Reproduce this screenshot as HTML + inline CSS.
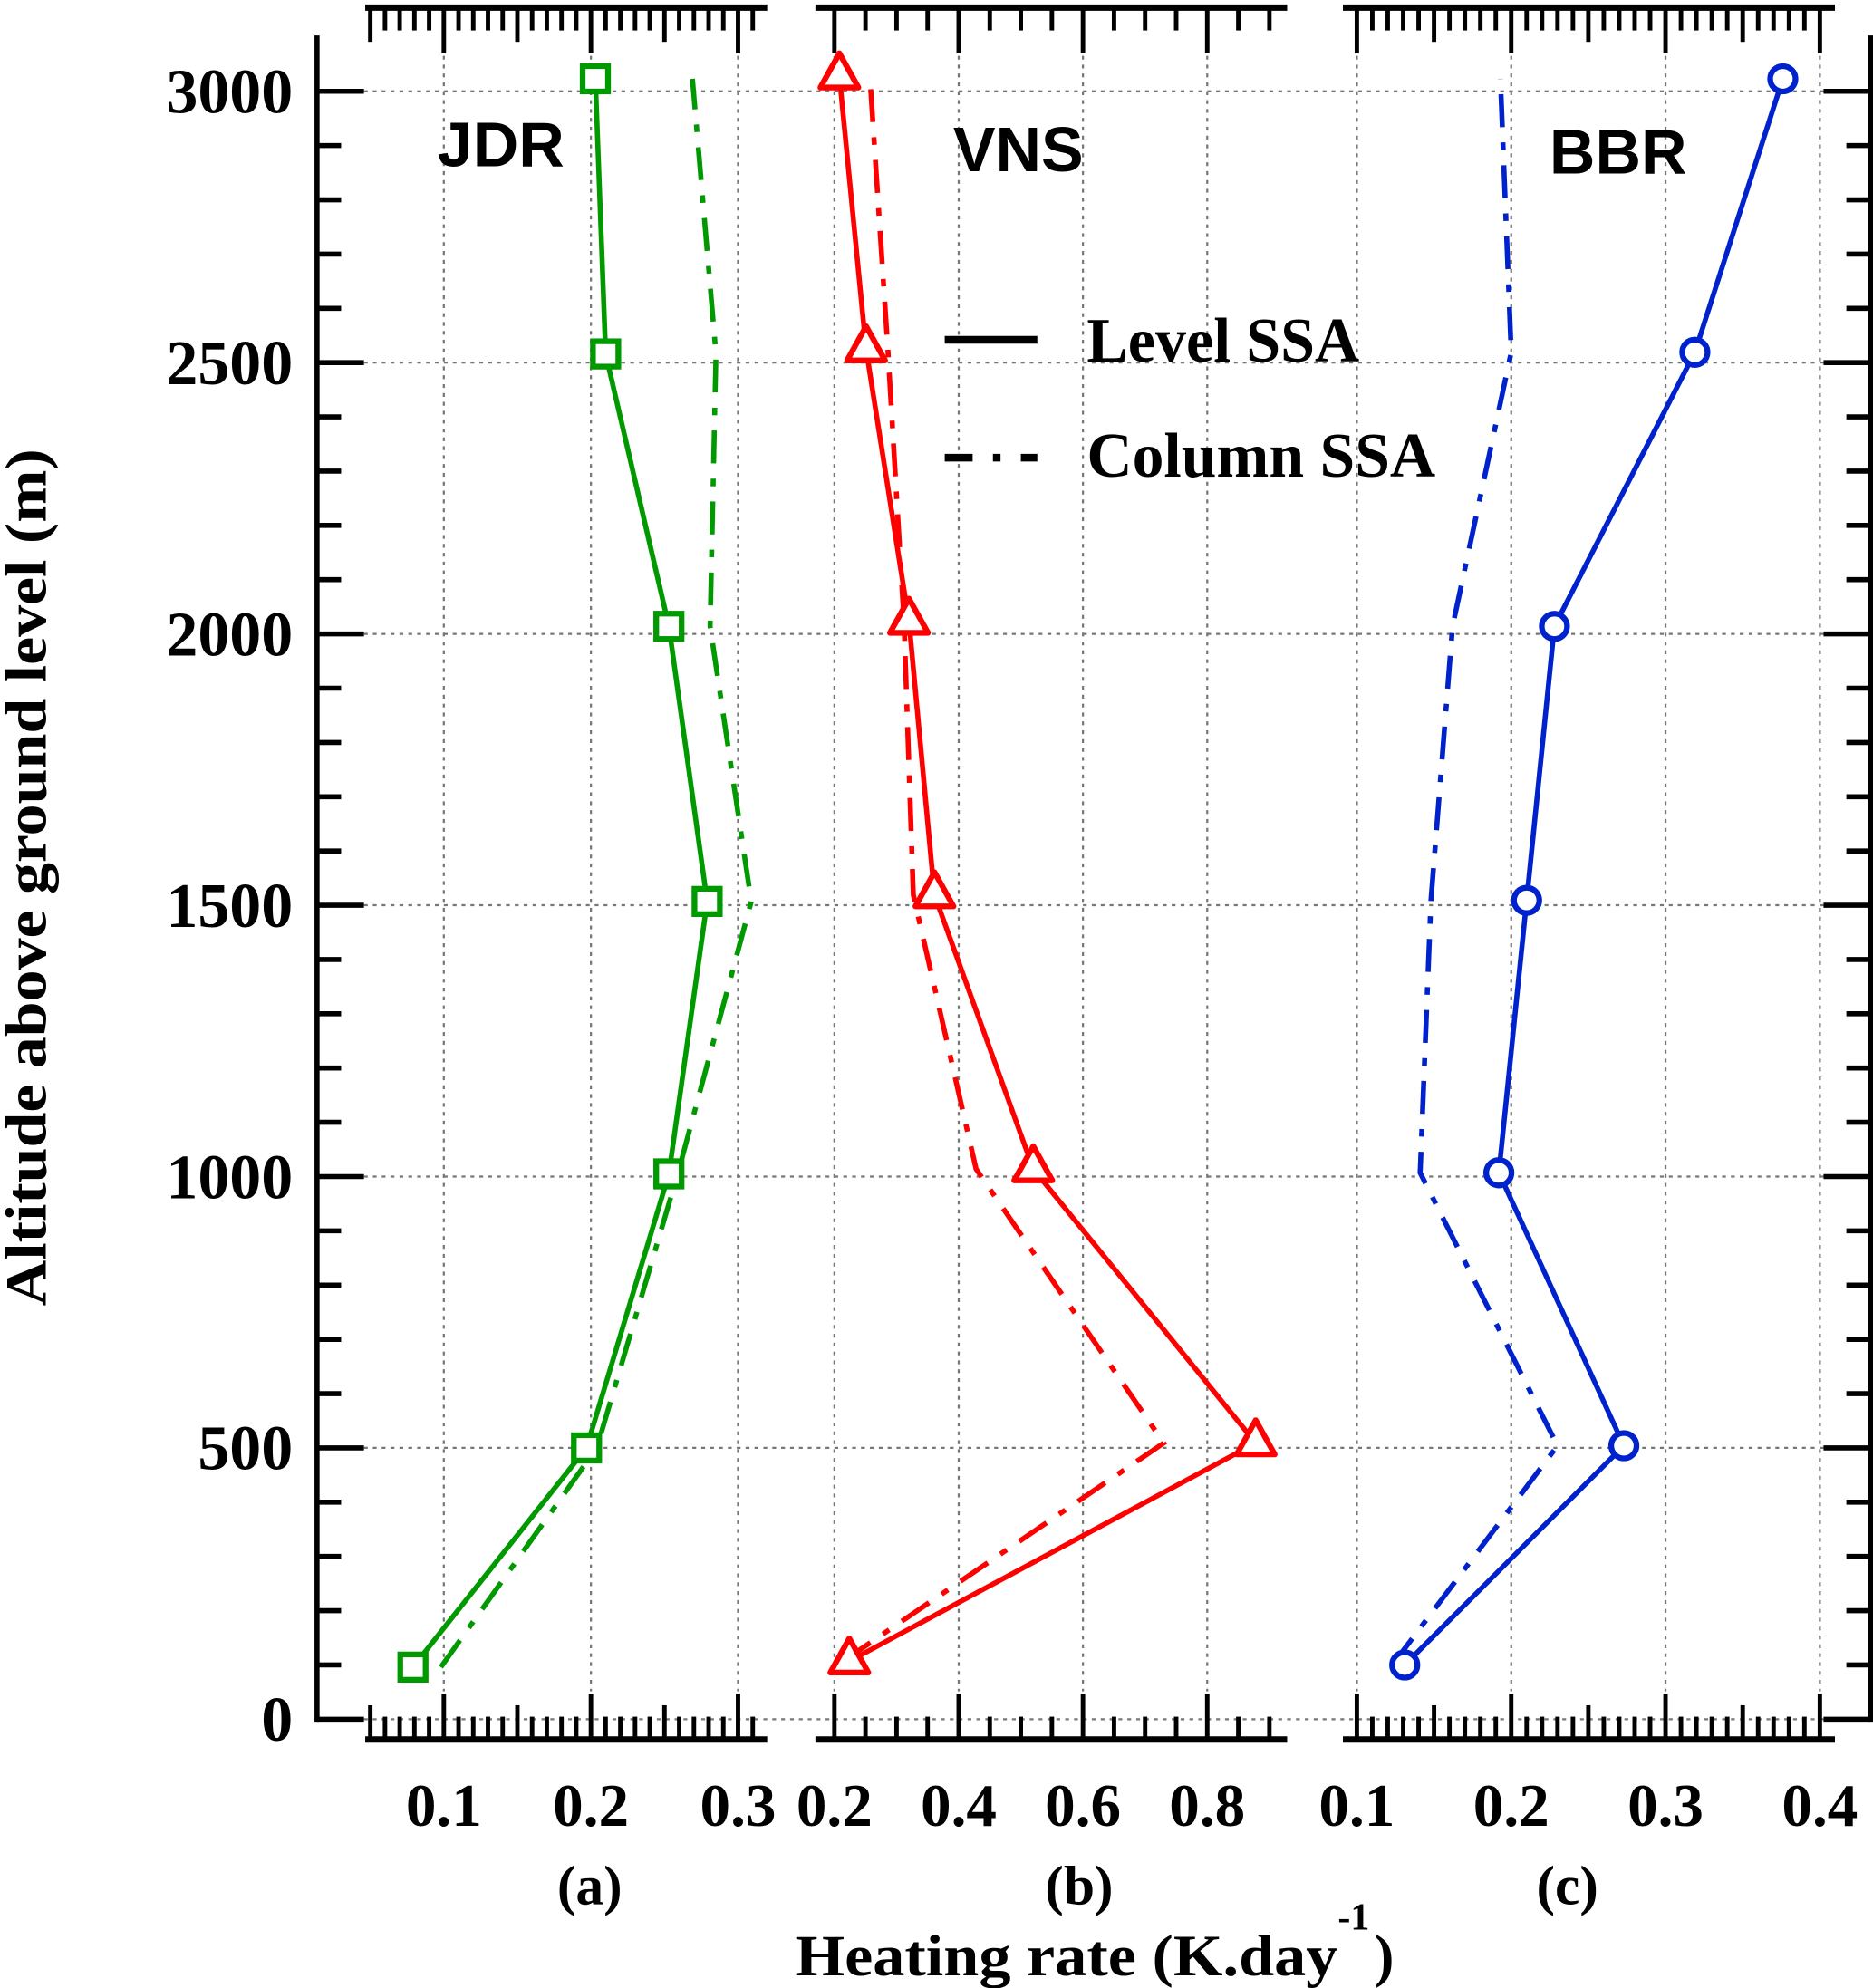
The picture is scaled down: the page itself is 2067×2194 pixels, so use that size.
<!DOCTYPE html>
<html><head><meta charset="utf-8"><style>
html,body{margin:0;padding:0;background:#fff;}
svg{display:block;}
text{font-family:"Liberation Serif",serif;font-weight:bold;fill:#000;}
</style></head><body>
<svg id="fig" width="2067" height="2194" viewBox="0 0 1477 1568" preserveAspectRatio="none" xmlns="http://www.w3.org/2000/svg">
<g id="grid"></g>
<g id="axes"></g>
<g id="series"></g>
<g id="labels">
<text x="395" y="131" text-anchor="middle" style="font-family:'Liberation Sans',sans-serif;font-size:50px">JDR</text>
<text x="803" y="135" text-anchor="middle" style="font-family:'Liberation Sans',sans-serif;font-size:50px">VNS</text>
<text x="1276" y="137" text-anchor="middle" style="font-family:'Liberation Sans',sans-serif;font-size:50px">BBR</text>
<line x1="745" y1="268" x2="818" y2="268" stroke="#000" stroke-width="6"/>
<text x="857" y="285" font-size="50" textLength="215" lengthAdjust="spacingAndGlyphs">Level SSA</text>
<line x1="745" y1="361" x2="818" y2="361" stroke="#000" stroke-width="6" stroke-dasharray="22 16 6 16"/>
<text x="857" y="376" font-size="50" textLength="275" lengthAdjust="spacingAndGlyphs">Column SSA</text>
<text x="465" y="1502" text-anchor="middle" font-size="44">(a)</text>
<text x="851" y="1502" text-anchor="middle" font-size="44">(b)</text>
<text x="1236" y="1502" text-anchor="middle" font-size="44">(c)</text>
<text x="627" y="1558" font-size="46" textLength="428" lengthAdjust="spacingAndGlyphs">Heating rate (K.day</text>
<text x="1055" y="1522" font-size="30">-1</text>
<text x="1084" y="1558" font-size="46">)</text>
<text transform="translate(36,692) rotate(-90)" text-anchor="middle" font-size="46" textLength="676" lengthAdjust="spacingAndGlyphs">Altitude above ground level (m)</text>
</g>
</svg>
<script>
// y-axis data
const altTicks = [0, 500, 1000, 1500, 2000, 2500, 3000];
// panel (a) JDR
const jdrAlt = [96, 500, 1005, 1507, 2014, 2516, 3023];
const jdrLevel = [0.079, 0.197, 0.253, 0.279, 0.253, 0.210, 0.203];
const jdrColumn = [0.098, 0.204, 0.259, 0.309, 0.281, 0.285, 0.269];
const jdrTicks = ["0.1", "0.2", "0.3"];
// panel (b) VNS
const vnsAlt = [107, 509, 1014, 1519, 2023, 2525, 3028];
const vnsLevel = [0.224, 0.878, 0.52, 0.361, 0.32, 0.251, 0.208];
const vnsColumn = [0.214, 0.73, 0.428, 0.327, 0.312, 0.286, 0.257];
const vnsTicks = ["0.2", "0.4", "0.6", "0.8"];
// panel (c) BBR
const bbrAlt = [100, 504, 1007, 1509, 2014, 2519, 3023];
const bbrLevel = [0.131, 0.273, 0.192, 0.210, 0.228, 0.319, 0.376];
const bbrColumn = [0.123, 0.23, 0.141, 0.148, 0.162, 0.2, 0.193];
const bbrTicks = ["0.1", "0.2", "0.3", "0.4"];

const NS = "http://www.w3.org/2000/svg";
const Y0 = 1356, YS = 1284 / 3000;
function yS(a) { return Y0 - a * YS; }
function mk(tag, attrs, parent) {
  const e = document.createElementNS(NS, tag);
  for (const k in attrs) e.setAttribute(k, attrs[k]);
  parent.appendChild(e);
  return e;
}
const grid = document.getElementById('grid');
const axes = document.getElementById('axes');
const series = document.getElementById('series');
const GRID = { stroke: '#777', 'stroke-width': 1.6, 'stroke-dasharray': '3 4' };

const yAxL = mk('line', { x1: 250, y1: 28, x2: 250, y2: 1358, stroke: '#000', 'stroke-width': 4 }, axes);


const yAxR = mk('line', { x1: 1475, y1: 28, x2: 1475, y2: 1358, stroke: '#000', 'stroke-width': 4 }, axes);


for (let a = 0; a <= 3000; a += 100) {
  const y = yS(a), major = a % 500 === 0;
  const len = major ? 37 : 19;
  const t1 = mk('line', { x1: 250, y1: y, x2: 250 + len, y2: y, stroke: '#000', 'stroke-width': 4 }, axes);
  
  
  const t2 = mk('line', { x1: 1475, y1: y, x2: 1475 - len, y2: y, stroke: '#000', 'stroke-width': 4 }, axes);
  
  
}
altTicks.forEach(a => {
  const g = mk('line', Object.assign({ x1: 287, y1: yS(a), x2: 1438, y2: yS(a) }, GRID), grid);
  
  
  const t = mk('text', { x: 231, y: yS(a) + 17, 'text-anchor': 'end', 'font-size': 50 }, axes);
  t.textContent = String(a);
  
  
});

const panels = [
  { key: 'jdr', x0: 0.1, px0: 350, pxPer: 1160, xmin: 0.05, xmax: 0.31, minor: 0.01, mid: 0.05, majorStep: 0.1, lineL: 288, lineR: 605,
    ticks: jdrTicks, alt: jdrAlt, level: jdrLevel, column: jdrColumn, color: '#009900', marker: 'square' },
  { key: 'vns', x0: 0.2, px0: 658, pxPer: 490, xmin: 0.2, xmax: 0.9, minor: 0.05, mid: null, majorStep: 0.2, lineL: 643, lineR: 1015,
    ticks: vnsTicks, alt: vnsAlt, level: vnsLevel, column: vnsColumn, color: '#ff0000', marker: 'triangle' },
  { key: 'bbr', x0: 0.1, px0: 1070, pxPer: 1217, xmin: 0.1, xmax: 0.4, minor: 0.01, mid: 0.05, majorStep: 0.1, lineL: 1059, lineR: 1447,
    ticks: bbrTicks, alt: bbrAlt, level: bbrLevel, column: bbrColumn, color: '#0022cc', marker: 'circle' }
];

panels.forEach(p => {
  const xS = v => p.px0 + (v - p.x0) * p.pxPer;
  const bl = mk('line', { x1: p.lineL, y1: 1372, x2: p.lineR, y2: 1372, stroke: '#000', 'stroke-width': 5 }, axes);
  
  
  const tl = mk('line', { x1: p.lineL, y1: 6, x2: p.lineR, y2: 6, stroke: '#000', 'stroke-width': 5 }, axes);
  
  
  const n = Math.round((p.xmax - p.xmin) / p.minor);
  for (let i = 0; i <= n; i++) {
    const v = p.xmin + i * p.minor;
    const isMajor = Math.abs(v / p.majorStep - Math.round(v / p.majorStep)) < 1e-6;
    const isMid = p.mid && Math.abs(v / p.mid - Math.round(v / p.mid)) < 1e-6;
    const len = isMajor ? 36 : (isMid ? 27 : 18);
    const x = xS(v);
    const b = mk('line', { x1: x, y1: 1372, x2: x, y2: 1372 - len, stroke: '#000', 'stroke-width': 3.5 }, axes);
    
    
    const t = mk('line', { x1: x, y1: 6, x2: x, y2: 6 + len, stroke: '#000', 'stroke-width': 3.5 }, axes);
    
    
  }
  p.ticks.forEach(lab => {
    const x = xS(parseFloat(lab));
    const g = mk('line', Object.assign({ x1: x, y1: 44, x2: x, y2: 1334 }, GRID), grid);
    
    
    const t = mk('text', { x: x, y: 1440, 'text-anchor': 'middle', 'font-size': 48 }, axes);
    t.textContent = lab;
    
    
  });
  const colPts = p.column.map((v, i) => xS(v) + ',' + yS(p.alt[i])).join(' ');
  const col = mk('polyline', { points: colPts, fill: 'none', stroke: p.color, 'stroke-width': 4, 'stroke-dasharray': '26 12 6 12' }, series);
  
  
  const levPts = p.level.map((v, i) => xS(v) + ',' + yS(p.alt[i])).join(' ');
  const lev = mk('polyline', { points: levPts, fill: 'none', stroke: p.color, 'stroke-width': 4 }, series);
  
  
  p.level.forEach((v, i) => {
    const x = xS(v), y = yS(p.alt[i]);
    let m;
    if (p.marker === 'square') {
      m = mk('rect', { x: x - 10, y: y - 10, width: 20, height: 20, fill: '#fff', stroke: p.color, 'stroke-width': 4.5 }, series);
    } else if (p.marker === 'triangle') {
      m = mk('polygon', { points: (x) + ',' + (y - 18) + ' ' + (x - 15) + ',' + (y + 9) + ' ' + (x + 15) + ',' + (y + 9), fill: '#fff', stroke: p.color, 'stroke-width': 4.5, 'stroke-linejoin': 'round' }, series);
    } else {
      m = mk('circle', { cx: x, cy: y, r: 10, fill: '#fff', stroke: p.color, 'stroke-width': 4.5 }, series);
    }
    
    
  });
});
</script>
</body></html>
